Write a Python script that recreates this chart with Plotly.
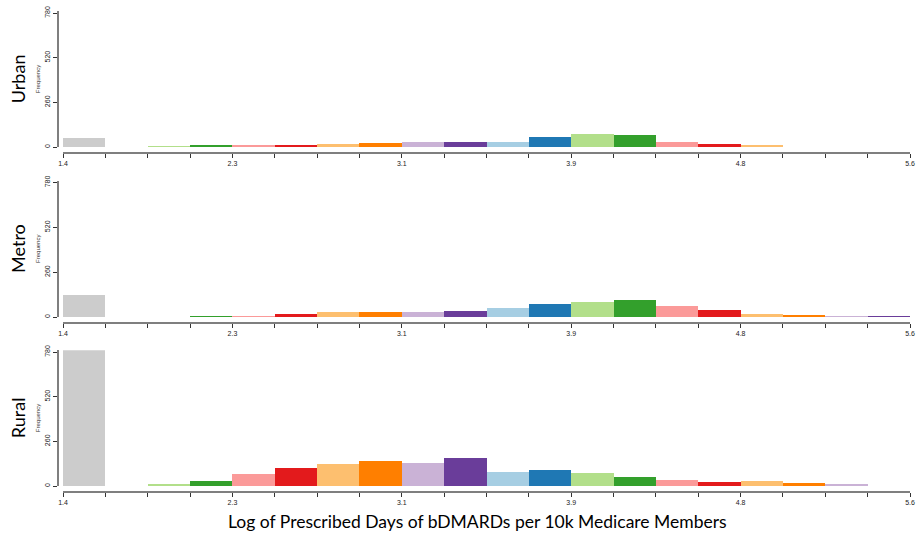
import plotly.graph_objects as go

# ---- data ----
x_min = 1.4
bin_width = 0.21
n_bins = 20
tick_labels = ["1.4", "2.3", "3.1", "3.9", "4.8", "5.6"]
y_ticks = [0, 260, 520, 780]

panels = ["Urban", "Metro", "Rural"]
urban = [50, 0, 3, 10, 10, 12, 17, 23, 25, 27, 25, 58, 76, 68, 27, 17, 6, 0, 0, 0]
metro = [130, 0, 0, 6, 7, 20, 33, 29, 29, 35, 55, 74, 91, 97, 64, 39, 21, 10, 3, 4]
rural = [790, 0, 6, 27, 66, 105, 126, 146, 130, 161, 81, 91, 76, 48, 35, 23, 25, 16, 8, 0]
series = [urban, metro, rural]

paired = ["#a6cee3", "#1f78b4", "#b2df8a", "#33a02c", "#fb9a99",
          "#e31a1c", "#fdbf6f", "#ff7f00", "#cab2d6", "#6a3d9a"]
first_bin_color = "#cccccc"

# ---- layout geometry (paper fractions) ----
W, H = 923, 536
x_dom = [63 / W, 910 / W]
y_doms = [[1 - 147 / H, 1 - 11.3 / H],
          [1 - 317 / H, 1 - 180.8 / H],
          [1 - 486 / H, 1 - 350.3 / H]]
x_axis_pos = [1 - 152.5 / H, 1 - 322.7 / H, 1 - 491.7 / H]
y_axis_pos = 58 / W

centers = [x_min + bin_width * (i + 0.5) for i in range(n_bins)]
colors = [first_bin_color] + [paired[i % 10] for i in range(1, n_bins)]
tickvals = [round(x_min + bin_width * i, 4) for i in range(n_bins + 1)]
ticktext = [tick_labels[i // 4] if i % 4 == 0 else "" for i in range(n_bins + 1)]

fig = go.Figure()
axis_color = "#7f7f7f"
tick_font = dict(size=7, color="#222222", family="Liberation Sans")
for k, (name, vals) in enumerate(zip(panels, series)):
    sfx = "" if k == 0 else str(k + 1)
    fig.add_trace(go.Bar(
        x=centers, y=vals, width=bin_width,
        marker=dict(color=colors, line=dict(width=0)),
        xaxis="x" + sfx, yaxis="y" + sfx, showlegend=False,
        hoverinfo="x+y",
    ))
    fig.layout["xaxis" + sfx] = dict(
        domain=x_dom, range=[x_min, x_min + bin_width * n_bins],
        anchor="free", position=x_axis_pos[k], automargin=False,
        tickmode="array", tickvals=tickvals, ticktext=ticktext,
        ticks="outside", ticklen=4, tickwidth=1, tickcolor="#333333",
        showline=True, linecolor=axis_color, linewidth=2,
        showgrid=False, zeroline=False, tickfont=tick_font,
        fixedrange=True,
    )
    fig.layout["yaxis" + sfx] = dict(
        domain=y_doms[k], range=[0, 790],
        anchor="free", position=y_axis_pos, automargin=False,
        tickmode="array", tickvals=y_ticks,
        ticks="outside", ticklen=4, tickwidth=1, tickcolor="#333333",
        tickangle=-90,
        showline=True, linecolor=axis_color, linewidth=2,
        showgrid=False, zeroline=False, tickfont=tick_font,
        fixedrange=True,
    )
    ymid = (y_doms[k][0] + y_doms[k][1]) / 2
    fig.add_annotation(text="Frequency", xref="paper", yref="paper",
                       x=38 / W, y=ymid, textangle=-90, showarrow=False,
                       xanchor="center", yanchor="middle",
                       font=dict(size=6, color="#333333", family="Liberation Sans"))
    fig.add_annotation(text=name, xref="paper", yref="paper",
                       x=18 / W, y=ymid, textangle=-90, showarrow=False,
                       xanchor="center", yanchor="middle",
                       font=dict(size=18, color="#000000", family="Lato"))

fig.add_annotation(text="Log of Prescribed Days of bDMARDs per 10k Medicare Members",
                   xref="paper", yref="paper", x=477 / W, y=1 - 521 / H,
                   showarrow=False, xanchor="center", yanchor="middle",
                   font=dict(size=17.5, color="#000000", family="Lato"))

fig.update_layout(width=W, height=H, margin=dict(l=0, r=0, t=0, b=0, autoexpand=False),
                  paper_bgcolor="white", plot_bgcolor="white", bargap=0)

fig.write_html("out.html", config={"displayModeBar": False},
               post_script="document.body.style.margin='0';")
